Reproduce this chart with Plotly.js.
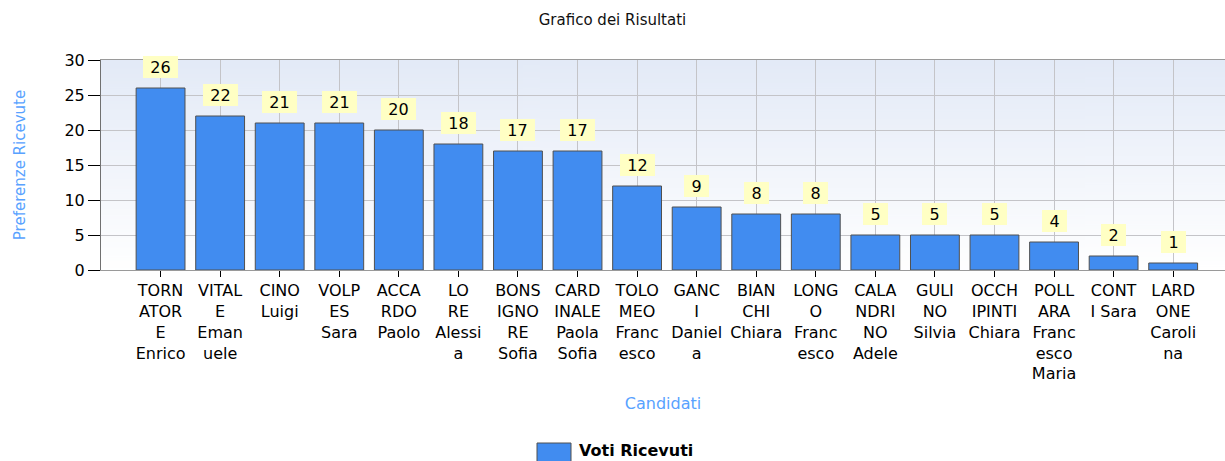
<!DOCTYPE html>
<html>
<head>
<meta charset="utf-8">
<script src="https://cdn.plot.ly/plotly-3.0.1.min.js"></script>
<style>html,body{margin:0;padding:0;background:#fff;}#chart{width:1225px;height:461px;}</style>
</head>
<body>
<div id="chart"></div>
<script>
var candidates = ["TORNATORE Enrico","VITALE Emanuele","CINO Luigi","VOLPES Sara","ACCARDO Paolo","LO RE Alessia","BONSIGNORE Sofia","CARDINALE Paola Sofia","TOLOMEO Francesco","GANCI Daniela","BIANCHI Chiara","LONGO Francesco","CALANDRINO Adele","GULINO Silvia","OCCHIPINTI Chiara","POLLARA Francesco Maria","CONTI Sara","LARDONE Carolina"];
var votes = [26,22,21,21,20,18,17,17,12,9,8,8,5,5,5,4,2,1];
var tickLabels = ["TORN<br>ATOR<br>E<br>Enrico","VITAL<br>E<br>Eman<br>uele","CINO<br>Luigi","VOLP<br>ES<br>Sara","ACCA<br>RDO<br>Paolo","LO<br>RE<br>Alessi<br>a","BONS<br>IGNO<br>RE<br>Sofia","CARD<br>INALE<br>Paola<br>Sofia","TOLO<br>MEO<br>Franc<br>esco","GANC<br>I<br>Daniel<br>a","BIAN<br>CHI<br>Chiara","LONG<br>O<br>Franc<br>esco","CALA<br>NDRI<br>NO<br>Adele","GULI<br>NO<br>Silvia","OCCH<br>IPINTI<br>Chiara","POLL<br>ARA<br>Franc<br>esco<br>Maria","CONT<br>I Sara","LARD<br>ONE<br>Caroli<br>na"];
var seriesName = "Voti Ricevuti";
var yTicks = [0,5,10,15,20,25,30];

var FONT = "DejaVu Sans";
var BLUE_TEXT = "#58a2ff";
var BAR_COLOR = "#418CF0";

// plot area geometry (pixels) used to place the hand-made legend
var W = 1225, H = 461, ML = 101, MR = 0, MT = 60, MB = 191;
var plotW = W - ML - MR, plotH = H - MT - MB;
function px2paperX(px){ return (px - ML) / plotW; }
function px2paperY(py){ return (H - MB - py) / plotH; }

// background gradient for the plot area
var cv = document.createElement('canvas');
cv.width = 4; cv.height = 256;
var cx = cv.getContext('2d');
var g = cx.createLinearGradient(0,0,0,256);
g.addColorStop(0,'rgb(227,234,247)');
g.addColorStop(1,'rgb(255,255,255)');
cx.fillStyle = g; cx.fillRect(0,0,4,256);
var bgURL = cv.toDataURL('image/png');

var annotations = candidates.map(function(c,i){
  var s = String(votes[i]);
  return {
    x: c, y: votes[i], xref: 'x', yref: 'y',
    text: s, showarrow: false,
    yanchor: 'bottom', yshift: 10,
    bgcolor: '#ffffc4', borderpad: 0, borderwidth: 0,
    width: 10*s.length + 15, height: 22,
    font: {family: FONT, size: 16, color: '#000'}
  };
});

// legend (drawn by hand to match the reference's wide swatch)
annotations.push({
  xref: 'paper', yref: 'paper', x: px2paperX(578), y: px2paperY(450),
  xanchor: 'left', yanchor: 'middle', showarrow: false, borderpad: 0,
  text: '<b>' + seriesName + '</b>',
  font: {family: FONT, size: 16, color: '#000'}
});

var trace = {
  type: 'bar', x: candidates, y: votes, name: seriesName,
  width: 0.82,
  marker: {color: BAR_COLOR, line: {color: '#505050', width: 1}},
  hoverinfo: 'x+y', showlegend: false
};

var layout = {
  width: W, height: H,
  margin: {l: ML, r: MR, t: MT, b: MB, pad: 0},
  paper_bgcolor: '#ffffff', plot_bgcolor: 'rgba(0,0,0,0)',
  font: {family: FONT, size: 16, color: '#000'},
  title: {text: 'Grafico dei Risultati', font: {family: FONT, size: 15, color: '#111'},
          xref: 'container', x: 0.5, xanchor: 'center', yref: 'container', y: 1 - 20/461, yanchor: 'middle'},
  xaxis: {
    type: 'category', range: [-1, 17.87], tickvals: candidates, ticktext: tickLabels,
    showgrid: true, gridcolor: '#c4c4c8', gridwidth: 1,
    ticks: 'outside', ticklen: 6, tickcolor: '#000', tickwidth: 1,
    showline: true, linecolor: '#9a9a9a', linewidth: 1, mirror: true,
    tickfont: {family: FONT, size: 16, color: '#000'}, tickangle: 0,
    automargin: false, fixedrange: true,
    title: {text: 'Candidati', font: {family: FONT, size: 16, color: BLUE_TEXT}, standoff: 15}
  },
  yaxis: {
    range: [0, 30], tickvals: yTicks, zeroline: false,
    showgrid: true, gridcolor: '#c4c4c8', gridwidth: 1,
    ticks: 'outside', ticklen: 12, tickcolor: '#000', tickwidth: 1,
    showline: true, linecolor: '#707070', linewidth: 1,
    tickfont: {family: FONT, size: 16, color: '#000'},
    automargin: false, fixedrange: true,
    title: {text: 'Preferenze Ricevute', font: {family: FONT, size: 15, color: BLUE_TEXT}, standoff: 35}
  },
  showlegend: false,
  annotations: annotations,
  shapes: [{
    type: 'rect', xref: 'paper', yref: 'paper',
    xsizemode: 'pixel', ysizemode: 'pixel',
    xanchor: px2paperX(537), yanchor: px2paperY(443),
    x0: 0, x1: 34, y0: 0, y1: -20,
    fillcolor: BAR_COLOR, line: {color: '#505050', width: 1}
  }],
  images: [{source: bgURL, xref: 'paper', yref: 'paper', x: 0, y: 1, sizex: 1, sizey: 1,
            sizing: 'stretch', xanchor: 'left', yanchor: 'top', layer: 'below'}]
};

Plotly.newPlot('chart', [trace], layout, {displayModeBar: false, staticPlot: true});
</script>
</body>
</html>
